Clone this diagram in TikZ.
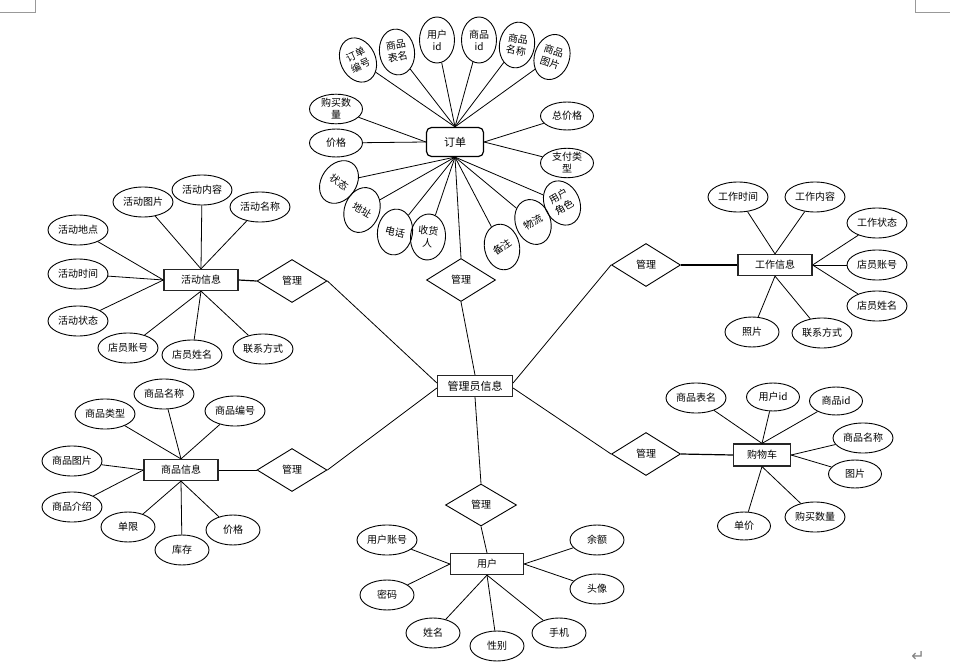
\documentclass[tikz,border=0pt]{standalone}
\usepackage{fontspec}
\setmainfont{Noto Sans CJK SC}
\newfontfamily\symfont{DejaVu Sans}
\usetikzlibrary{shapes.geometric}
\begin{document}
\begin{tikzpicture}[x=1pt,y=-1pt,
  attr/.style={draw,ellipse,line width=0.9pt,inner sep=0pt,minimum width=54pt,minimum height=30pt,font=\fontsize{10}{12}\selectfont,align=center},
  wide/.style={minimum width=60pt},
  tall/.style={minimum width=35pt,minimum height=46pt},
  mid/.style={minimum width=53pt,minimum height=28pt},
  ent/.style={draw=black!85,line width=1.2pt,minimum width=74pt,minimum height=21pt,inner sep=0pt,font=\fontsize{10}{12}\selectfont},
  rel/.style={draw,diamond,line width=0.9pt,minimum width=70pt,minimum height=43pt,inner sep=0pt,font=\fontsize{10}{12}\selectfont},
  ln/.style={line width=0.8pt}]
\useasboundingbox (0,0) rectangle (967,666);
% page marks
\coordinate (m1) at (0,12); \coordinate (m2) at (35,12); \coordinate (m3) at (35,0);
\coordinate (m4) at (915,0); \coordinate (m5) at (915,12); \coordinate (m6) at (950,12);
\draw[draw=black!40,line width=0.8pt] (m1) -- (m2) -- (m3);
\draw[draw=black!40,line width=0.8pt] (m4) -- (m5) -- (m6);
\node[text=black!50,font=\symfont\fontsize{16}{16}\selectfont] (ret) at (918,656) {↵};

% ===== admin =====
\node[ent,minimum width=75pt,font=\fontsize{11}{12}\selectfont] (admin) at (475,386) {管理员信息};

% ===== order =====
\node[draw,rounded corners=5pt,line width=1.2pt,minimum width=57pt,minimum height=29pt,inner sep=0pt,font=\fontsize{11}{12}\selectfont] (ord) at (455,142) {订单};
\node[attr,tall,rotate=25] (o1) at (358,60) {订单\\编号};
\node[attr,tall,rotate=8] (o2) at (397,52) {\rotatebox{2}{\begin{tabular}{@{}c@{}}商品\\表名\end{tabular}}};
\node[attr,tall] (o3) at (437,40) {用户\\id};
\node[attr,tall] (o4) at (479,40) {商品\\id};
\node[attr,tall,rotate=-10] (o5) at (517,45) {商品\\名称};
\node[attr,tall,rotate=-18] (o6) at (552,57) {商品\\图片};
\node[attr,mid] (o7) at (336,109) {购买数\\量};
\node[attr,mid] (o8) at (336,143) {价格};
\node[attr,mid] (o9) at (567,116) {总价格};
\node[attr,mid] (o10) at (567,163) {支付类\\型};
\node[attr,tall,rotate=-35] (o11) at (339,182) {状态};
\node[attr,tall,rotate=-20] (o12) at (362,210) {\rotatebox{-10}{地址}};
\node[attr,tall,rotate=-8] (o13) at (395,232) {\rotatebox{-7}{电话}};
\node[attr,tall,rotate=-5] (o14) at (428,237) {收货\\人};
\node[attr,tall,rotate=12] (o15) at (502,247) {\rotatebox{23}{备注}};
\node[attr,tall,rotate=20] (o16) at (533,222) {\rotatebox{10}{物流}};
\node[attr,tall,rotate=25] (o17) at (562,203) {\rotatebox{5}{\begin{tabular}{@{}c@{}}用户\\角色\end{tabular}}};
\foreach \n in {o1,o2,o3,o4,o5,o6} \draw[ln] (ord.north) -- (\n);
\foreach \n in {o11,o12,o13,o14,o15,o16,o17} \draw[ln] (ord.south) -- (\n);
\draw[ln] (ord.west) -- (o7);
\draw[ln] (ord.west) -- (o8);
\draw[ln] (ord.east) -- (o9);
\draw[ln] (ord.east) -- (o10);
\node[rel,minimum width=69pt] (odia) at (461,280) {管理};
\draw[ln] (ord.south) -- (odia.north);
\draw[ln] (odia.south) -- (admin.north);

% ===== activity =====
\node[ent] (act) at (201,280) {活动信息};
\node[rel] (adia) at (292,281) {管理};
\node[attr,wide] (a1) at (143,202) {活动图片};
\node[attr,wide] (a2) at (202,190) {活动内容};
\node[attr,wide] (a3) at (260,207) {活动名称};
\node[attr,wide] (a4) at (78,230) {活动地点};
\node[attr,wide] (a5) at (78,274) {活动时间};
\node[attr,wide] (a6) at (78,321) {活动状态};
\node[attr,wide] (a7) at (128,348) {店员账号};
\node[attr,wide] (a8) at (192,355) {店员姓名};
\node[attr,wide] (a9) at (263,349) {联系方式};
\foreach \n in {a1,a2,a3} \draw[ln] (act.north) -- (\n);
\foreach \n in {a4,a5,a6} \draw[ln] (act.west) -- (\n);
\foreach \n in {a7,a8,a9} \draw[ln] (act.south) -- (\n);
\draw[line width=1.2pt] (act.east) -- (adia.west);
\draw[ln] (adia.east) -- ([yshift=3pt]admin.west);

% ===== product =====
\node[ent] (prd) at (181,470) {商品信息};
\node[rel] (pdia) at (292,470) {管理};
\node[attr,wide] (p1) at (105,414) {商品类型};
\node[attr,wide] (p2) at (164,394) {商品名称};
\node[attr,wide] (p3) at (235,411) {商品编号};
\node[attr,wide] (p4) at (72,461) {商品图片};
\node[attr,wide] (p5) at (72,507) {商品介绍};
\node[attr] (p6) at (128,527) {单限};
\node[attr] (p7) at (182,550) {库存};
\node[attr] (p8) at (233,530) {价格};
\foreach \n in {p1,p2,p3} \draw[ln] (prd.north) -- (\n);
\foreach \n in {p4,p5} \draw[ln] (prd.west) -- (\n);
\foreach \n in {p6,p7,p8} \draw[ln] (prd.south) -- (\n);
\draw[ln] (prd.east) -- (pdia.west);
\draw[ln] (pdia.east) -- ([yshift=-2pt]admin.west);

% ===== work =====
\node[ent] (wrk) at (775,265) {工作信息};
\node[rel,minimum width=69pt] (wdia) at (646,265) {管理};
\node[attr,wide] (w1) at (738,197) {工作时间};
\node[attr,wide] (w2) at (815,197) {工作内容};
\node[attr,wide] (w3) at (877,223) {工作状态};
\node[attr,wide] (w4) at (877,265) {店员账号};
\node[attr,wide] (w5) at (877,306) {店员姓名};
\node[attr] (w6) at (752,332) {照片};
\node[attr,wide] (w7) at (822,333) {联系方式};
\foreach \n in {w1,w2} \draw[ln] (wrk.north) -- (\n);
\foreach \n in {w3,w4,w5} \draw[ln] (wrk.east) -- (\n);
\foreach \n in {w6,w7} \draw[ln] (wrk.south) -- (\n);
\draw[line width=1.2pt] (wdia.east) -- (wrk.west);
\draw[ln] ([yshift=3pt]admin.east) -- (wdia.west);

% ===== cart =====
\node[ent,minimum width=57pt,minimum height=22pt] (crt) at (762,455) {购物车};
\node[rel,minimum width=69pt] (cdia) at (646,454) {管理};
\node[attr,wide] (c1) at (696,398) {商品表名};
\node[attr,mid] (c2) at (773,397) {用户id};
\node[attr,mid] (c3) at (836,401) {商品id};
\node[attr,wide] (c4) at (863,438) {商品名称};
\node[attr,mid] (c5) at (855,474) {图片};
\node[attr,mid] (c6) at (744,526) {单价};
\node[attr,wide] (c7) at (815,517) {购买数量};
\foreach \n in {c1,c2,c3} \draw[ln] (crt.north) -- (\n);
\foreach \n in {c4,c5} \draw[ln] (crt.east) -- (\n);
\foreach \n in {c6,c7} \draw[ln] (crt.south) -- (\n);
\draw[line width=1.2pt] (cdia.east) -- (crt.west);
\draw[ln] ([yshift=-2pt]admin.east) -- (cdia.west);

% ===== user =====
\node[ent,minimum width=73pt] (usr) at (487,564) {用户};
\node[rel,minimum width=71pt,minimum height=42pt] (udia) at (481,505) {管理};
\node[attr,wide] (u1) at (387,540) {用户账号};
\node[attr] (u2) at (387,595) {密码};
\node[attr] (u3) at (433,633) {姓名};
\node[attr] (u4) at (497,646) {性别};
\node[attr] (u5) at (559,633) {手机};
\node[attr] (u6) at (597,540) {余额};
\node[attr] (u7) at (597,589) {头像};
\foreach \n in {u1,u2} \draw[ln] (usr.west) -- (\n);
\foreach \n in {u3,u4,u5} \draw[ln] (usr.south) -- (\n);
\foreach \n in {u6,u7} \draw[ln] (usr.east) -- (\n);
\draw[ln] (admin.south) -- (udia.north);
\draw[ln] (udia.south) -- (usr.north);
\end{tikzpicture}
\end{document}
